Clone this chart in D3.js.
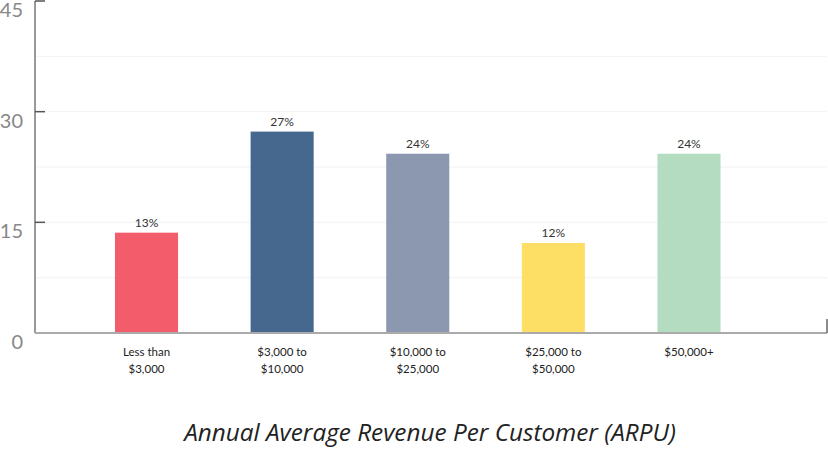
<!DOCTYPE html>
<html>
<head>
<meta charset="utf-8">
<script src="https://cdn.jsdelivr.net/npm/d3@7"></script>
<style>
  body { margin: 0; background: #fff; }
  #chart { width: 828px; height: 449px; }
</style>
</head>
<body>
<div id="chart"></div>
<script>
// data
const categories = [["Less than", "$3,000"], ["$3,000 to", "$10,000"], ["$10,000 to", "$25,000"], ["$25,000 to", "$50,000"], ["$50,000+"]];
const values = [13.6, 27.3, 24.3, 12.2, 24.3];
const labels = ["13%", "27%", "24%", "12%", "24%"];
const colors = ["#f25c6b", "#46688f", "#8c98b0", "#fedf65", "#b3dcc1"];
const yTicks = [0, 15, 30, 45];
const gridTicks = [7.5, 15, 22.5, 30, 37.5];

const width = 828, height = 449;
const x0 = 35, x1 = 827, yBase = 333, yTop = 1;

const svg = d3.select('#chart')
  .append('svg')
  .attr('width', width)
  .attr('height', height);

const y = d3.scaleLinear().domain([0, 45]).range([yBase, yTop]);
const x = d3.scaleBand()
  .domain(d3.range(values.length))
  .range([78.7, 756.8])
  .paddingInner(0.535)
  .paddingOuter(0.2675);

// faint grid
svg.selectAll('line.grid')
  .data(gridTicks)
  .enter()
  .append('line')
  .attr('class', 'grid')
  .attr('x1', x0)
  .attr('x2', x1)
  .attr('y1', d => y(d))
  .attr('y2', d => y(d))
  .attr('stroke', '#f2f2f2')
  .attr('stroke-width', 1);

// bars
svg.selectAll('rect.bar')
  .data(values)
  .enter()
  .append('rect')
  .attr('class', 'bar')
  .attr('x', (d, i) => x(i))
  .attr('y', d => y(d))
  .attr('width', x.bandwidth())
  .attr('height', d => yBase - y(d))
  .attr('fill', (d, i) => colors[i]);

// value labels
svg.selectAll('text.val')
  .data(values)
  .enter()
  .append('text')
  .attr('class', 'val')
  .attr('x', (d, i) => x(i) + x.bandwidth() / 2)
  .attr('y', d => y(d) - 6)
  .attr('text-anchor', 'middle')
  .style('font-family', 'Lato, sans-serif')
  .style('font-size', '12px')
  .style('fill', '#333')
  .text((d, i) => labels[i]);

// y axis line
svg.append('line')
  .attr('x1', x0).attr('x2', x0)
  .attr('y1', yTop).attr('y2', yBase)
  .attr('stroke', '#999')
  .attr('stroke-width', 2);

// x axis line
svg.append('line')
  .attr('x1', x0).attr('x2', x1)
  .attr('y1', yBase).attr('y2', yBase)
  .attr('stroke', '#aaa')
  .attr('stroke-width', 2);

// right end tick
svg.append('line')
  .attr('x1', x1).attr('x2', x1)
  .attr('y1', yBase - 14).attr('y2', yBase)
  .attr('stroke', '#666')
  .attr('stroke-width', 1.5);

// y ticks (inward) and labels
svg.selectAll('line.ytick')
  .data(yTicks.filter(d => d > 0))
  .enter()
  .append('line')
  .attr('class', 'ytick')
  .attr('x1', x0).attr('x2', x0 + 10)
  .attr('y1', d => y(d)).attr('y2', d => y(d))
  .attr('stroke', '#555')
  .attr('stroke-width', 1.5);

svg.selectAll('text.ylab')
  .data(yTicks)
  .enter()
  .append('text')
  .attr('class', 'ylab')
  .attr('x', 23)
  .attr('y', d => y(d) + 16)
  .attr('text-anchor', 'end')
  .style('font-family', 'Lato, sans-serif')
  .style('font-size', '20px')
  .style('fill', '#888')
  .text(d => d);

// category labels
const cat = svg.selectAll('text.cat')
  .data(categories)
  .enter()
  .append('text')
  .attr('class', 'cat')
  .attr('text-anchor', 'middle')
  .style('font-family', 'Lato, sans-serif')
  .style('font-size', '11.5px')
  .style('fill', '#222');

cat.selectAll('tspan')
  .data((d, i) => d.map(t => ({ t, i })))
  .enter()
  .append('tspan')
  .attr('x', d => x(d.i) + x.bandwidth() / 2)
  .attr('y', (d, j) => 356 + j * 17)
  .text(d => d.t);

// title
svg.append('text')
  .attr('x', 430)
  .attr('y', 441)
  .attr('text-anchor', 'middle')
  .style('font-family', '"Open Sans", sans-serif')
  .style('font-style', 'italic')
  .style('font-size', '24.3px')
  .style('fill', '#222')
  .text('Annual Average Revenue Per Customer (ARPU)');
</script>
</body>
</html>
